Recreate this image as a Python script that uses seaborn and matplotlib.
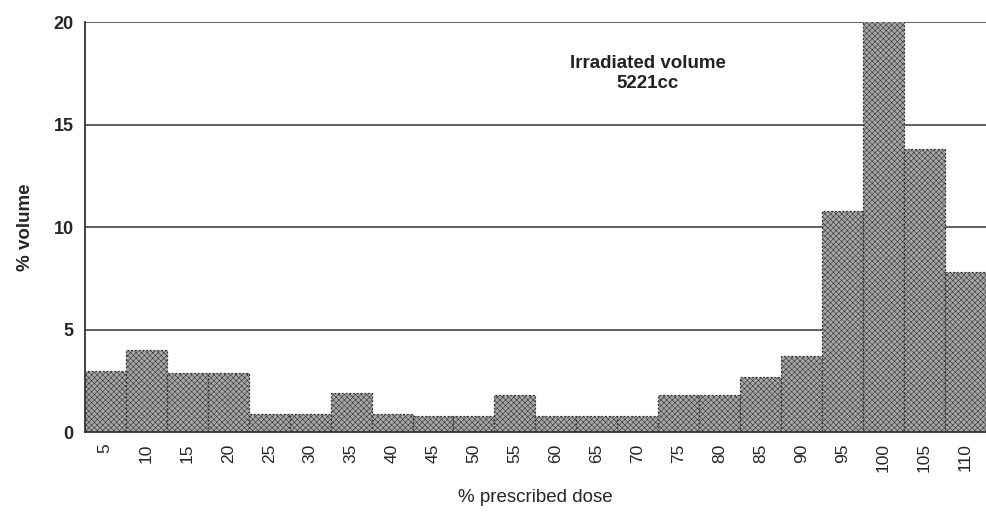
import pandas as pd
import numpy as np
import matplotlib.pyplot as plt
import seaborn as sns

# dose bins (% of prescribed) and % volume in each
dose = [5, 10, 15, 20, 25, 30, 35, 40, 45, 50, 55, 60, 65, 70, 75, 80, 85, 90, 95, 100, 105, 110]
volume = [3.0, 4.0, 2.9, 2.9, 0.9, 0.9, 1.9, 0.9, 0.8, 0.8, 1.8, 0.8, 0.8, 0.8, 1.8, 1.8, 2.7, 3.7, 10.8, 21.0, 13.8, 7.8]

df = pd.DataFrame({'dose': [str(d) for d in dose], 'volume': volume})

sns.set_style('white')
plt.rcParams['font.family'] = ['Liberation Sans', 'DejaVu Sans']
plt.rcParams['hatch.color'] = '#7a7a7a'
plt.rcParams['hatch.linewidth'] = 0.4

fig = plt.figure(figsize=(9.86, 5.29), dpi=100)
ax = fig.add_axes([0.086, 0.183, 0.914, 0.775])

ax.grid(axis='y', color='#444444', linewidth=1.2)
ax.set_axisbelow(True)

sns.barplot(data=df, x='dose', y='volume', order=df['dose'], color='#a6a6a6',
            width=1.0, saturation=1, edgecolor='#333333', linewidth=0.9, ax=ax)
for p in ax.patches:
    p.set_hatch('xxxxxx')
    p.set_linestyle((0, (1.5, 1.5)))

ax.set_ylim(0, 20)
ax.set_xlim(-0.5, len(dose) - 0.5)
ax.set_yticks([0, 5, 10, 15, 20])
ax.tick_params(axis='y', labelsize=13, length=0, pad=8)
for t in ax.get_yticklabels():
    t.set_fontweight('bold')
ax.tick_params(axis='x', labelsize=12.5, rotation=90, length=0, pad=8)
# minor ticks at the bin boundaries
ax.set_xticks(np.arange(-0.5, len(dose), 1.0), minor=True)
ax.tick_params(axis='x', which='minor', length=3, color='#555555')

for s in ['top', 'right']:
    ax.spines[s].set_visible(False)
ax.spines['left'].set_color('#333333')
ax.spines['left'].set_linewidth(1.3)
ax.spines['bottom'].set_color('#333333')
ax.spines['bottom'].set_linewidth(1.3)

ax.set_ylabel('% volume', fontsize=13.5, fontweight='bold', labelpad=14)
ax.set_xlabel('% prescribed dose', fontsize=13.5, labelpad=12)

ax.text(0.625, 0.875, 'Irradiated volume\n5221cc', transform=ax.transAxes,
        ha='center', va='center', fontsize=13.5, fontweight='bold',
        linespacing=1.3, color='#222222')

plt.savefig('out.png', dpi=100)
